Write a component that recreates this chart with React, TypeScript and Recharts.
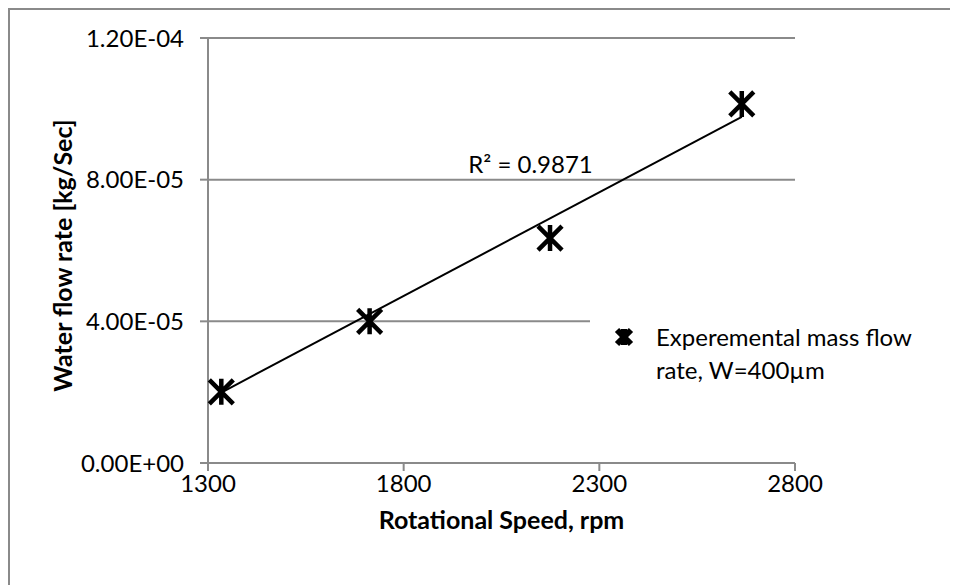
import { ScatterChart, Scatter, XAxis, YAxis, CartesianGrid, ReferenceLine, ReferenceDot, Legend, Label } from 'recharts';

// measured points (rpm vs water mass flow, kg/s)
const rpm = [1334, 1713, 2174, 2664];
const flow = [2.01e-5, 4.0e-5, 6.35e-5, 1.014e-4];

// linear trendline ends
const trendRpm = [1334, 2664];
const trendFlow = [1.99e-5, 9.77e-5];

const xTicks = [1300, 1800, 2300, 2800];
const yTicks = [0, 4e-5, 8e-5, 1.2e-4];

const seriesName = 'Experemental mass flow rate, W=400µm';
const r2Text = 'R² = 0.9871';
const r2At = { x: 1965, y: 8.19e-5 };

const GRAY = '#8a8a8a';
const FONT = 'Lato, "Open Sans", sans-serif';
const FS = 24;

// Excel style 0.00E+00
const sci = (v: number) => {
  if (v === 0) return '0.00E+00';
  const [m, e] = v.toExponential(2).split('e');
  const n = Number(e);
  return `${m}E${n < 0 ? '-' : '+'}${String(Math.abs(n)).padStart(2, '0')}`;
};

const Star = (p: any) => {
  const { cx, cy } = p;
  const h = 12;
  return (
    <path
      d={`M${cx - h},${cy - h}L${cx + h},${cy + h}M${cx + h},${cy - h}L${cx - h},${cy + h}M${cx},${cy - h - 1}L${cx},${cy + h + 1}`}
      stroke="#000"
      strokeWidth={4.5}
      fill="none"
    />
  );
};

const XTitle = (p: any) => {
  const vb = p.viewBox;
  return (
    <text x={vb.x + vb.width / 2} y={vb.y + 66} textAnchor="middle" fontSize={25} fontWeight="bold" fill="#000" fontFamily={FONT}>
      Rotational Speed, rpm
    </text>
  );
};

const YTitle = (p: any) => {
  const vb = p.viewBox;
  const cx = 64;
  const cy = vb.y + vb.height / 2 + 5;
  return (
    <text x={cx} y={cy} transform={`rotate(-90 ${cx} ${cy})`} textAnchor="middle" fontSize={25} fontWeight="bold" fill="#000" fontFamily={FONT}>
      Water flow rate [kg/Sec]
    </text>
  );
};

const LegendBox = () => (
  <div style={{ background: '#fff', paddingTop: 12, display: 'flex', alignItems: 'flex-start', fontFamily: FONT, fontSize: FS, lineHeight: '33px', color: '#000' }}>
    <svg width={22} height={22} style={{ marginLeft: 23, marginTop: 6 }}>
      <path d="M4,4L18,18M18,4L4,18M11,3L11,19" stroke="#000" strokeWidth={6} fill="none" />
    </svg>
    <div style={{ marginLeft: 21, width: 290 }}>{seriesName}</div>
  </div>
);

export default function App() {
  const points = rpm.map((x, i) => ({ x, y: flow[i] }));

  return (
    <div style={{ position: 'relative', width: 950, height: 577, overflow: 'hidden', background: '#fff' }}>
      <div style={{ position: 'absolute', left: 0, top: 0, right: 0, bottom: 0, borderLeft: `2px solid ${GRAY}`, borderTop: `2px solid ${GRAY}`, pointerEvents: 'none' }} />
      <ScatterChart width={950} height={577} margin={{ top: 30, right: 163, bottom: 32, left: 0 }} style={{ fontFamily: FONT }}>
        <CartesianGrid vertical={false} stroke={GRAY} strokeWidth={2} />
        <XAxis
          type="number"
          dataKey="x"
          domain={[1300, 2800]}
          ticks={xTicks}
          height={90}
          tickSize={8}
          tickMargin={4}
          axisLine={{ stroke: GRAY, strokeWidth: 2 }}
          tickLine={{ stroke: GRAY, strokeWidth: 2 }}
          tick={{ fill: '#000', fontSize: FS }}
        >
          <Label content={XTitle} />
        </XAxis>
        <YAxis
          type="number"
          dataKey="y"
          domain={[0, 1.2e-4]}
          ticks={yTicks}
          width={200}
          tickSize={8}
          tickMargin={16}
          tickFormatter={sci}
          axisLine={{ stroke: GRAY, strokeWidth: 2 }}
          tickLine={{ stroke: GRAY, strokeWidth: 2 }}
          tick={{ fill: '#000', fontSize: FS }}
        >
          <Label content={YTitle} />
        </YAxis>
        <ReferenceLine
          segment={[
            { x: trendRpm[0], y: trendFlow[0] },
            { x: trendRpm[1], y: trendFlow[1] },
          ]}
          stroke="#000"
          strokeWidth={2}
        />
        <ReferenceDot
          x={r2At.x}
          y={r2At.y}
          r={0}
          shape={(p: any) => (
            <text x={p.cx} y={p.cy} fontSize={FS} fill="#000" fontFamily={FONT}>
              {r2Text}
            </text>
          )}
        />
        <Scatter name={seriesName} data={points} shape={Star} isAnimationActive={false} />
        <Legend
          layout="horizontal"
          verticalAlign="middle"
          align="center"
          wrapperStyle={{ left: 582, top: 300, width: 368 }}
          content={LegendBox}
        />
      </ScatterChart>
    </div>
  );
}
